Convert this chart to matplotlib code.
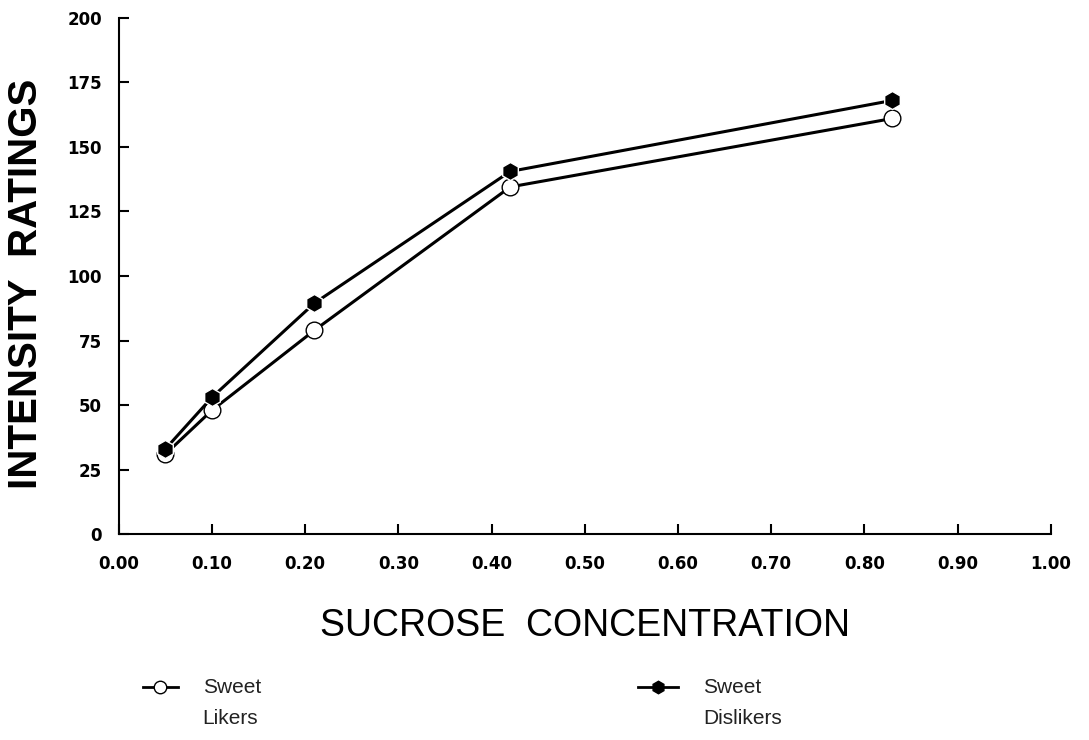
import matplotlib
matplotlib.use("Agg")
import matplotlib.pyplot as plt
from matplotlib.lines import Line2D

# ---- dati ----
sucrose = [0.05, 0.10, 0.21, 0.42, 0.83]
likers = [31, 48, 79, 134.5, 161]
dislikers = [33, 53, 89.5, 140.5, 168]

x_ticks = [0.0, 0.1, 0.2, 0.3, 0.4, 0.5, 0.6, 0.7, 0.8, 0.9, 1.0]
x_ticklabels = ["0.00", "0.10", "0.20", "0.30", "0.40", "0.50",
                "0.60", "0.70", "0.80", "0.90", "1.00"]
y_ticks = [0, 25, 50, 75, 100, 125, 150, 175, 200]

fig = plt.figure(figsize=(10.89, 7.40), dpi=100)
ax = fig.add_axes([0.109, 0.278, 0.856, 0.698])

ax.plot(sucrose, likers, color="black", lw=2.2, marker="o", ms=12,
        mfc="white", mec="black", mew=1.0, zorder=3)
ax.plot(sucrose, dislikers, color="black", lw=2.2, marker="h", ms=13,
        mfc="black", mec="white", mew=1.0, zorder=4)

ax.set_xlim(0, 1.0)
ax.set_ylim(0, 200)
ax.set_xticks(x_ticks)
ax.set_xticklabels(x_ticklabels)
ax.set_yticks(y_ticks)
for s in ("top", "right"):
    ax.spines[s].set_visible(False)
for s in ("left", "bottom"):
    ax.spines[s].set_linewidth(1.5)
ax.tick_params(axis="both", direction="in", length=7, width=1.5,
               labelsize=12)
ax.tick_params(axis="x", pad=15)
ax.tick_params(axis="y", pad=12)
for lab in ax.get_xticklabels() + ax.get_yticklabels():
    lab.set_fontweight("bold")
    lab.set_family("DejaVu Sans")

ax.set_ylabel("INTENSITY  RATINGS", family="Liberation Sans",
              fontweight="bold", fontsize=29, va="center")
ax.yaxis.set_label_coords(-0.099, 0.485)
ax.set_xlabel("SUCROSE  CONCENTRATION", family="Liberation Sans",
              fontsize=27, labelpad=25)

# ---- legenda (in coordinate figura) ----
def legend_entry(x0, x1, y, face, marker, label):
    fig.add_artist(Line2D([x0, (x0 + x1) / 2, x1], [y, y, y],
                          transform=fig.transFigure, color="black", lw=2.0,
                          marker=marker, markevery=[1], ms=9,
                          mfc=face, mec="black", mew=1.0))
    fig.text(x1 + 0.023, y, label, transform=fig.transFigure,
             family="Liberation Sans", fontsize=15, color="#222222",
             va="center", ha="left")

legend_entry(0.131, 0.163, 0.0716, "white", "o", "Sweet")
fig.text(0.186, 0.0297, "Likers", family="Liberation Sans", fontsize=15,
         color="#222222", va="center", ha="left")
legend_entry(0.586, 0.623, 0.0716, "black", "h", "Sweet")
fig.text(0.646, 0.0297, "Dislikers", family="Liberation Sans", fontsize=15,
         color="#222222", va="center", ha="left")

fig.savefig("out.png", dpi=100)
